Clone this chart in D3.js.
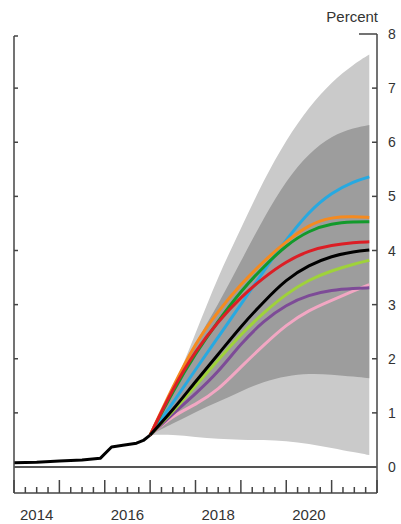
<!DOCTYPE html>
<html>
<head>
<meta charset="utf-8">
<script src="https://cdn.jsdelivr.net/npm/d3@7"></script>
<style>
  body { margin: 0; background: #fff; }
  svg text { font-family: "Liberation Sans", Arial, sans-serif; fill: #333; }
</style>
</head>
<body>
<svg id="svg"></svg>
<script>
const svgWidth = 401;
const svgHeight = 524;

// history (decimal years, percent)
const histYears = [2014.0, 2014.5, 2015.0, 2015.5, 2015.9, 2016.15, 2016.4, 2016.7, 2016.85, 2017.0];
const histValues = [0.08, 0.09, 0.11, 0.13, 0.16, 0.37, 0.4, 0.44, 0.49, 0.59];

// projection period
const projYears = [2017.0, 2017.5, 2018.0, 2018.5, 2019.0, 2019.5, 2020.0, 2020.5, 2021.0, 2021.5, 2021.83];

// bands
const outerUpper = [0.59, 1.42, 2.47, 3.53, 4.4, 5.3, 6.05, 6.65, 7.12, 7.45, 7.62];
const outerLower = [0.59, 0.6, 0.55, 0.52, 0.5, 0.5, 0.48, 0.43, 0.35, 0.27, 0.22];
const innerUpper = [0.59, 1.5, 2.3, 3.0, 3.8, 4.6, 5.3, 5.8, 6.12, 6.27, 6.32];
const innerLower = [0.59, 0.8, 1.02, 1.2, 1.4, 1.58, 1.68, 1.73, 1.71, 1.67, 1.64];

// projection paths
const pinkValues = [0.59, 0.95, 1.15, 1.42, 1.85, 2.25, 2.63, 2.9, 3.08, 3.26, 3.37];
const purpleValues = [0.59, 0.98, 1.35, 1.75, 2.28, 2.7, 3.0, 3.18, 3.27, 3.3, 3.31];
const limeValues = [0.59, 1.02, 1.5, 1.98, 2.45, 2.85, 3.2, 3.46, 3.63, 3.75, 3.82];
const blueValues = [0.59, 1.18, 1.8, 2.4, 3.0, 3.62, 4.2, 4.72, 5.07, 5.28, 5.36];
const greenValues = [0.59, 1.4, 2.1, 2.7, 3.25, 3.7, 4.1, 4.37, 4.5, 4.53, 4.53];
const orangeValues = [0.59, 1.48, 2.3, 2.88, 3.38, 3.8, 4.17, 4.48, 4.62, 4.63, 4.61];
const redValues = [0.59, 1.45, 2.15, 2.69, 3.14, 3.5, 3.8, 4.0, 4.1, 4.15, 4.16];
const blackValues = [0.59, 1.05, 1.58, 2.08, 2.6, 3.05, 3.47, 3.73, 3.9, 3.98, 4.01];

const yTicks = [0, 1, 2, 3, 4, 5, 6, 7, 8];
const yearLabels = [2014, 2016, 2018, 2020];

let svg = d3.select("#svg");
let xScale, yScale;

function initializeSVG() {
  svg.attr("width", svgWidth).attr("height", svgHeight);
  svg.selectAll("*").remove();

  xScale = d3.scaleLinear().domain([2014, 2022]).range([14, 377]);
  yScale = d3.scaleLinear().domain([0, 8]).range([467, 34]);
}

function drawBands() {
  const area = d3.area()
    .x((d) => xScale(d.t))
    .y0((d) => yScale(d.lo))
    .y1((d) => yScale(d.hi))
    .curve(d3.curveBasis);

  const outer = projYears.map((t, i) => ({ t, lo: outerLower[i], hi: outerUpper[i] }));
  const inner = projYears.map((t, i) => ({ t, lo: innerLower[i], hi: innerUpper[i] }));

  svg.append("path").datum(outer).attr("d", area).attr("fill", "#cacaca");
  svg.append("path").datum(inner).attr("d", area).attr("fill", "#9d9d9d");
}

function drawLines() {
  const line = d3.line()
    .x((d) => xScale(d.t))
    .y((d) => yScale(d.v))
    .curve(d3.curveBasis);

  const series = [
    { values: pinkValues, color: "#f2a7c3" },
    { values: purpleValues, color: "#7d4b97" },
    { values: limeValues, color: "#9fd23a" },
    { values: blueValues, color: "#27a9e1" },
    { values: greenValues, color: "#129a2b" },
    { values: orangeValues, color: "#f58a1f" },
    { values: redValues, color: "#dc1e25" },
    { values: blackValues, color: "#000000" },
  ];

  series.forEach((s) => {
    svg.append("path")
      .datum(projYears.map((t, i) => ({ t, v: s.values[i] })))
      .attr("d", line)
      .attr("fill", "none")
      .attr("stroke", s.color)
      .attr("stroke-width", 3);
  });

  // history
  const histLine = d3.line()
    .x((d) => xScale(d.t))
    .y((d) => yScale(d.v));
  svg.append("path")
    .datum(histYears.map((t, i) => ({ t, v: histValues[i] })))
    .attr("d", histLine)
    .attr("fill", "none")
    .attr("stroke", "#000")
    .attr("stroke-width", 3)
    .attr("stroke-linejoin", "round");
}

function drawAxes() {
  const axisColor = "#444";
  const bottomY = 493;
  const x0 = xScale(2014), x1 = xScale(2022);

  // frame
  svg.append("line").attr("x1", x0).attr("x2", x0).attr("y1", yScale(8) + 2).attr("y2", bottomY)
    .attr("stroke", axisColor).attr("stroke-width", 1.5);
  svg.append("line").attr("x1", x1).attr("x2", x1).attr("y1", yScale(8)).attr("y2", bottomY)
    .attr("stroke", axisColor).attr("stroke-width", 1.5);
  svg.append("line").attr("x1", x0).attr("x2", x1).attr("y1", bottomY).attr("y2", bottomY)
    .attr("stroke", axisColor).attr("stroke-width", 1.5);
  // zero line
  svg.append("line").attr("x1", x0).attr("x2", x1).attr("y1", yScale(0)).attr("y2", yScale(0))
    .attr("stroke", "#555").attr("stroke-width", 2);

  // y ticks
  yTicks.filter((d) => d > 0).forEach((d) => {
    const yl = d === 8 ? yScale(d) + 2 : yScale(d);
    svg.append("line").attr("x1", x0).attr("x2", x0 + 4)
      .attr("y1", yl).attr("y2", yl)
      .attr("stroke", axisColor).attr("stroke-width", 1.5);
    svg.append("line").attr("x1", x1).attr("x2", d === 8 ? x1 - 18 : x1 - 5)
      .attr("y1", yScale(d)).attr("y2", yScale(d))
      .attr("stroke", axisColor).attr("stroke-width", 1.5);
  });
  svg.selectAll(".ylab").data(yTicks).join("text")
    .attr("class", "ylab")
    .attr("x", x1 + 11)
    .attr("y", (d) => yScale(d) + 5)
    .style("font-size", "14px")
    .text((d) => d);

  svg.append("text").attr("x", x1 + 1).attr("y", 22).attr("text-anchor", "end")
    .style("font-size", "15px").text("Percent");

  // x ticks: years and quarters
  const quarters = d3.range(2014, 2022.01, 0.25);
  quarters.forEach((q) => {
    const major = Math.abs(q - Math.round(q)) < 1e-6;
    svg.append("line").attr("x1", xScale(q)).attr("x2", xScale(q))
      .attr("y1", bottomY).attr("y2", bottomY - (major ? 13 : 6))
      .attr("stroke", axisColor).attr("stroke-width", 1.5);
  });
  svg.selectAll(".xlab").data(yearLabels).join("text")
    .attr("class", "xlab")
    .attr("x", (d) => xScale(d + 0.5))
    .attr("y", 520)
    .attr("text-anchor", "middle")
    .style("font-size", "15px")
    .text((d) => d);
}

function initialize() {
  initializeSVG();
  drawBands();
  drawLines();
  drawAxes();
}

initialize();
</script>
</body>
</html>
